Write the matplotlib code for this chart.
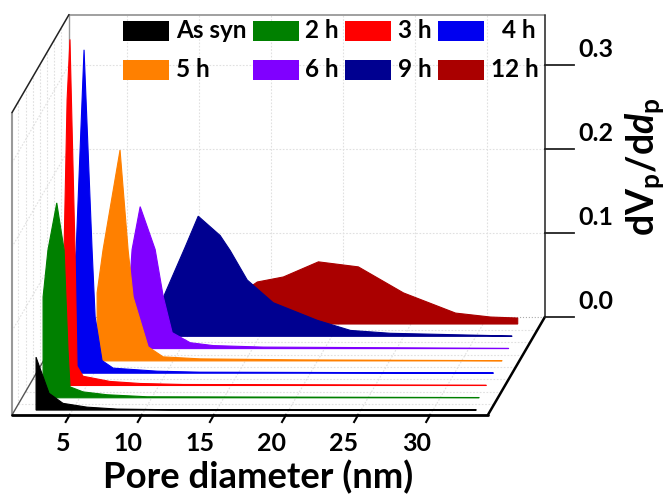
import matplotlib
matplotlib.use("Agg")
import matplotlib.pyplot as plt
from matplotlib.patches import Polygon, Rectangle

plt.rcParams["font.family"] = ["Lato", "DejaVu Sans"]
plt.rcParams["font.weight"] = "bold"
plt.rcParams["mathtext.fontset"] = "custom"
plt.rcParams["mathtext.rm"] = "Lato:bold"
plt.rcParams["mathtext.it"] = "Lato:bold:italic"
plt.rcParams["mathtext.bf"] = "Lato:bold"

LABELS = ["As syn", "2 h", "3 h", "4 h", "5 h", "6 h", "9 h", "12 h"]
COLORS = ["#000000", "#008000", "#ff0000", "#0000f0", "#ff8000", "#8000ff", "#000090", "#aa0000"]

d_as_syn = [2.47, 3.37, 4.34, 6.0, 8.1, 11.8, 33.0]
v_as_syn = [0.063, 0.020, 0.008, 0.0035, 0.0012, 0.0004, 0.0003]
d_2h = [2.46, 2.8, 3.41, 3.92, 4.19, 4.33, 5.24, 6.9, 9.68, 32.7]
v_2h = [0.120, 0.176, 0.232, 0.176, 0.057, 0.013, 0.007, 0.0036, 0.0012, 0.0003]
d_3h = [3.21, 3.42, 3.63, 3.83, 4.18, 4.32, 4.74, 6.61, 8.69, 11.68, 32.7]
v_3h = [0.119, 0.162, 0.34, 0.412, 0.162, 0.023, 0.011, 0.0048, 0.0024, 0.0012, 0.0003]
d_4h = [3.62, 3.76, 4.31, 4.87, 5.08, 5.56, 6.33, 9.38, 12.37, 32.7]
v_4h = [0.119, 0.146, 0.385, 0.146, 0.067, 0.015, 0.006, 0.0024, 0.0012, 0.0003]
d_5h = [4.72, 5.13, 6.31, 6.87, 7.22, 8.26, 9.3, 11.87, 18.8, 32.8]
v_5h = [0.081, 0.132, 0.251, 0.132, 0.076, 0.0167, 0.0048, 0.0024, 0.0012, 0.0003]
d_6h = [6.51, 6.65, 7.21, 8.25, 8.81, 9.43, 10.68, 12.28, 15.75, 32.76]
v_6h = [0.083, 0.118, 0.169, 0.118, 0.062, 0.019, 0.007, 0.0036, 0.0018, 0.0003]
d_9h = [8.31, 9.83, 10.74, 12.26, 12.96, 14.14, 15.94, 19.0, 21.3, 24.06, 30.3, 32.5]
v_9h = [0.046, 0.106, 0.143, 0.12, 0.102, 0.067, 0.04, 0.019, 0.007, 0.0036, 0.0012, 0.0003]
d_12h = [13.16, 14.34, 16.15, 18.58, 21.35, 24.48, 28.09, 30.52, 32.4]
v_12h = [0.036, 0.05, 0.056, 0.074, 0.068, 0.037, 0.013, 0.0083, 0.0071]

DIAMETERS = [d_as_syn, d_2h, d_3h, d_4h, d_5h, d_6h, d_9h, d_12h]
VALUES = [v_as_syn, v_2h, v_3h, v_4h, v_5h, v_6h, v_9h, v_12h]

X_TICKS = [5, 10, 15, 20, 25, 30]
V_TICKS = [0.0, 0.1, 0.2, 0.3]

# oblique projection onto the picture (pixels, y down)
X_MIN, X_MAX, V_MAX = 1.0, 34.0, 0.36
Z_MIN, Z_MAX = -0.4, 7.57
X0, Y0 = 12, 415
PX_PER_NM, PX_PER_V = 14.42, 840
DEPTH_X, DEPTH_Y = 57, 98


def project(d, z, v):
    t = (z - Z_MIN) / (Z_MAX - Z_MIN)
    return X0 + (d - X_MIN) * PX_PER_NM + DEPTH_X * t, Y0 - DEPTH_Y * t - v * PX_PER_V


def line3d(ax, start, end, **kwargs):
    p0 = project(*start)
    p1 = project(*end)
    ax.plot([p0[0], p1[0]], [p0[1], p1[1]], solid_capstyle="round", **kwargs)


fig = plt.figure(figsize=(6.69, 4.98), dpi=100)
ax = fig.add_axes([0, 0, 1, 1])
ax.set_xlim(0, 669)
ax.set_ylim(498, 0)
ax.axis("off")

# grid on walls and floor
grid = dict(color="#e0e0e0", lw=0.8, ls=(0, (1.5, 1.5)), zorder=1)
for d in X_TICKS:
    line3d(ax, (d, Z_MAX, 0), (d, Z_MAX, V_MAX), **grid)
    line3d(ax, (d, Z_MIN, 0), (d, Z_MAX, 0), **grid)
for v in V_TICKS[1:]:
    line3d(ax, (X_MIN, Z_MAX, v), (X_MAX, Z_MAX, v), **grid)
    line3d(ax, (X_MIN, Z_MIN, v), (X_MIN, Z_MAX, v), **grid)
for z in [i + 0.5 for i in range(7)]:
    line3d(ax, (X_MIN, z, 0), (X_MAX, z, 0), **grid)
    line3d(ax, (X_MIN, z, 0), (X_MIN, z, V_MAX), **grid)

# box
line3d(ax, (X_MIN, Z_MAX, 0), (X_MIN, Z_MAX, V_MAX), color="#999999", lw=1, zorder=2)
line3d(ax, (X_MIN, Z_MAX, V_MAX), (X_MAX, Z_MAX, V_MAX), color="#999999", lw=1.3, zorder=2)
line3d(ax, (X_MIN, Z_MIN, 0), (X_MIN, Z_MIN, V_MAX), color="#999999", lw=1.5, zorder=2)
line3d(ax, (X_MIN, Z_MIN, V_MAX), (X_MIN, Z_MAX, V_MAX), color="#222222", lw=1.1, zorder=2)
line3d(ax, (X_MIN, Z_MIN, 0), (X_MIN, Z_MAX, 0), color="#555555", lw=1, zorder=2)
line3d(ax, (X_MAX, Z_MAX, 0), (X_MAX, Z_MAX, V_MAX), color="#333333", lw=1.2, zorder=2)
line3d(ax, (X_MIN, Z_MAX, 0), (X_MAX, Z_MAX, 0), color="#aaaaaa", lw=0.8, ls=":", zorder=2)
line3d(ax, (X_MIN, Z_MIN, 0), (X_MAX, Z_MIN, 0), color="black", lw=2, zorder=20)
line3d(ax, (X_MAX, Z_MIN, 0), (X_MAX, Z_MAX, 0), color="black", lw=1.8, zorder=20)

# ridges, back one first
for i in reversed(range(len(LABELS))):
    pts = [project(d, i, v) for d, v in zip(DIAMETERS[i], VALUES[i])]
    pts = [project(DIAMETERS[i][0], i, 0)] + pts + [project(DIAMETERS[i][-1], i, 0)]
    ax.add_patch(Polygon(pts, closed=True, facecolor=COLORS[i], edgecolor=COLORS[i],
                         lw=0.8, zorder=10 + (7 - i) * 0.1))

# x ticks
for d in X_TICKS:
    x, y = project(d, Z_MIN, 0)
    ax.plot([x, x - 4], [y, y + 7], color="black", lw=1.5, zorder=20)
    ax.text(x + 0.5, y + 28, str(d), ha="right", va="center", fontsize=18)

# value ticks, labels sit above the tick
for v in V_TICKS:
    x, y = project(X_MAX, Z_MAX, v)
    ax.plot([x, x + 29], [y, y], color="#222222", lw=1.3, zorder=20)
    ax.text(x + 34, y - 16, f"{v:.1f}", ha="left", va="center", fontsize=18)

ax.text(258, 477, "Pore diameter (nm)", ha="center", va="center", fontsize=26.3)
ax.text(645, 167, r"dV$_{\mathrm{p}}$/d$d_{\mathrm{p}}$", rotation=90, ha="center", va="center", fontsize=27)

# legend, four columns
col_x = [123, 253, 345, 438]
row_y = [21, 60]
text_x = [[176, 305, 398, 502], [176, 305, 398, 491]]
for i, name in enumerate(LABELS):
    row, col = divmod(i, 4)
    ax.add_patch(Rectangle((col_x[col], row_y[row]), 46, 20, facecolor=COLORS[i], zorder=30))
    ax.text(text_x[row][col], row_y[row] + 9, name, ha="left", va="center", fontsize=17.5, zorder=30)

fig.savefig("out.png", dpi=100)
